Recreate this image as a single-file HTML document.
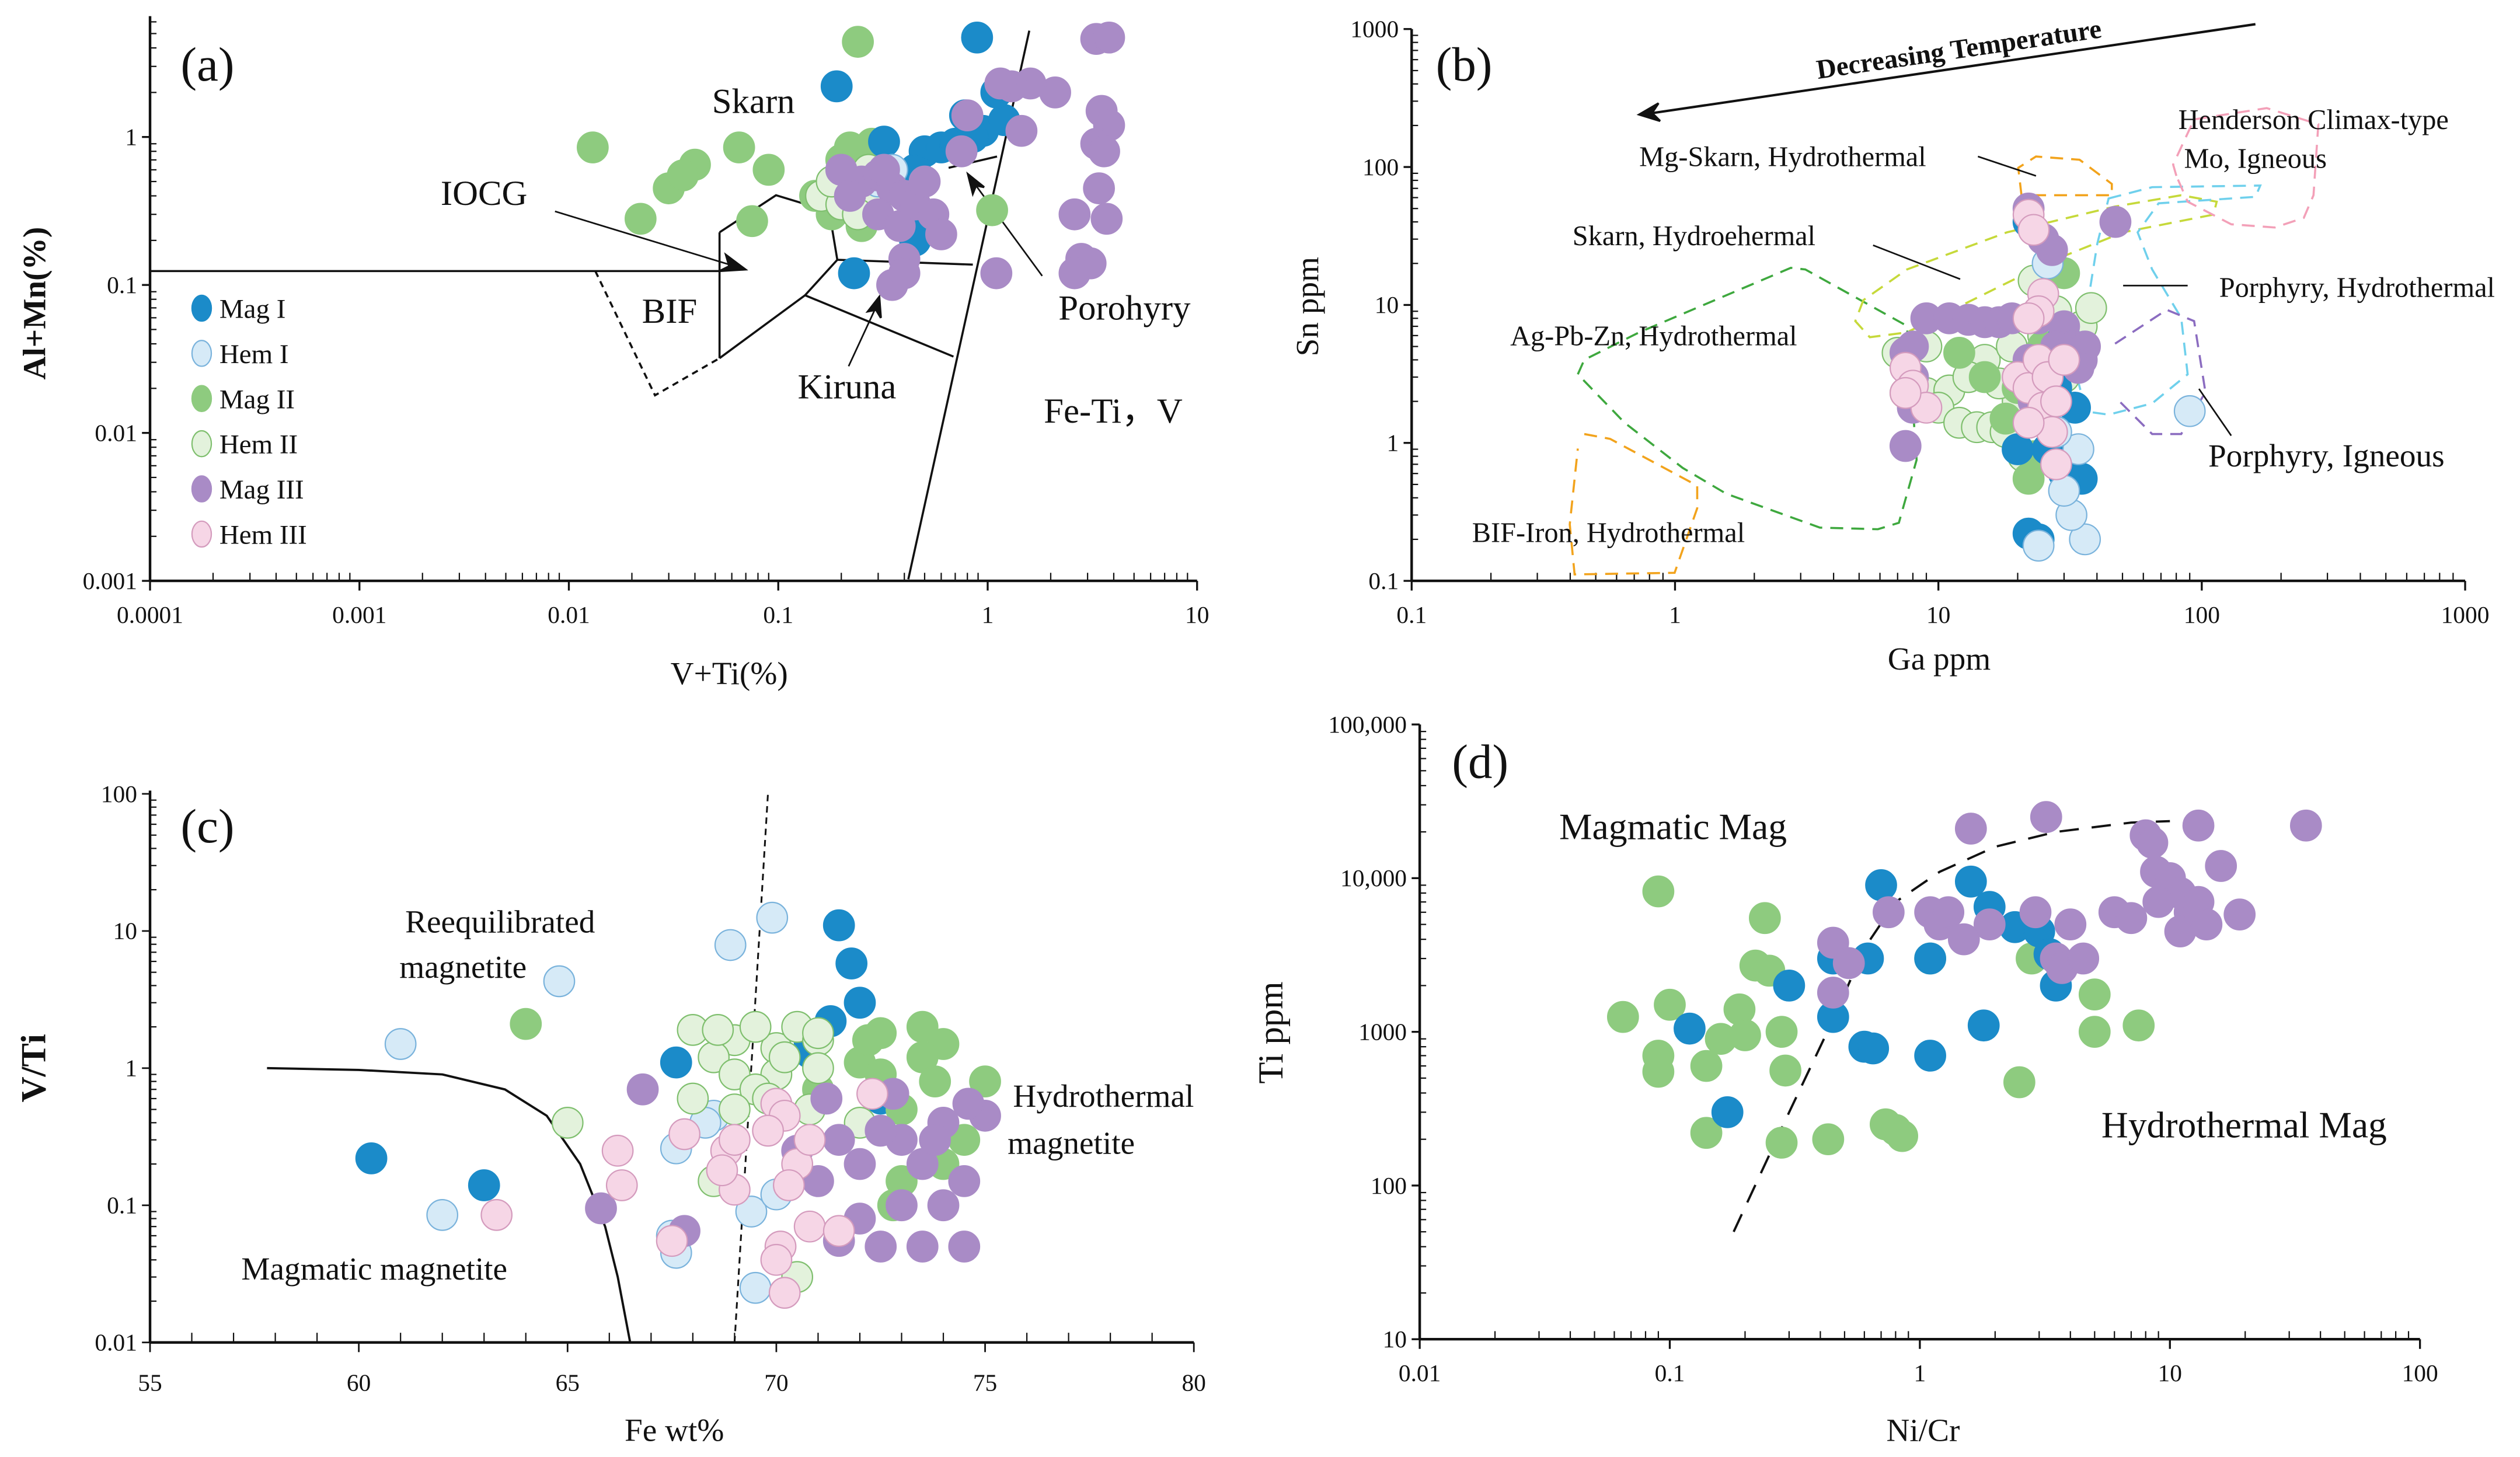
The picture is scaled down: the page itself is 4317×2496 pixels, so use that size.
<!DOCTYPE html>
<html><head><meta charset="utf-8"><style>
html,body{margin:0;padding:0;background:#fff}
svg{display:block}
text{font-family:"Liberation Serif",serif;fill:#111}
</style></head><body>
<svg id="fig" width="4317" height="2496" viewBox="0 0 1562 903" preserveAspectRatio="none" xmlns="http://www.w3.org/2000/svg">
<rect width="1562" height="903" fill="#fff"/>
<g id="layer"></g>
</svg>
<script>
// ---------- Panel (a) data: [V+Ti %, Al+Mn %] ----------
const aMagI=[[0.89,4.7],[0.19,2.2],[0.32,0.93],[0.5,0.8],[0.78,1.4],[0.95,1.1],[1.2,1.3],[0.6,0.85],[0.45,0.6],[0.23,0.12],[0.4,0.5],[0.45,0.2],[0.48,0.3],[1.1,2],[0.7,0.9],[0.85,1.0]];
const aHemI=[[0.3,0.5],[0.35,0.6]];
const aMagII=[[0.24,4.4],[0.013,0.85],[0.022,0.28],[0.03,0.45],[0.04,0.65],[0.065,0.85],[0.075,0.27],[0.09,0.6],[0.15,0.4],[0.2,0.7],[0.22,0.85],[0.28,0.9],[0.18,0.3],[0.25,0.5],[1.05,0.32],[0.035,0.55],[0.25,0.25],[0.2,0.45]];
const aHemII=[[0.16,0.4],[0.2,0.35],[0.22,0.5],[0.27,0.6],[0.3,0.4],[0.18,0.5],[0.24,0.3]];
const aMagIII=[[3.3,4.6],[3.8,4.7],[3.5,1.5],[3.8,1.2],[3.3,0.9],[3.6,0.8],[3.4,0.45],[3.7,0.28],[2.6,0.3],[2.8,0.15],[3.1,0.14],[2.6,0.12],[1.1,0.12],[2.1,2.0],[1.6,2.3],[1.3,2.2],[1.15,2.3],[0.75,0.8],[0.8,1.4],[1.45,1.1],[0.2,0.6],[0.25,0.5],[0.3,0.55],[0.35,0.45],[0.4,0.4],[0.3,0.3],[0.38,0.25],[0.45,0.35],[0.55,0.3],[0.6,0.22],[0.4,0.15],[0.35,0.1],[0.4,0.12],[0.32,0.6],[0.22,0.4],[0.5,0.5]];
const aHemIII=[];
// ---------- Panel (b) data: [Ga ppm, Sn ppm] ----------
const bMagI=[[22,0.22],[24,0.2],[35,0.55],[30,0.6],[26,0.9],[20,0.9],[33,1.8],[28,2.5],[25,4],[30,6],[22,40]];
const bHemI=[[36,0.2],[32,0.3],[30,0.45],[34,0.9],[90,1.7],[24,0.18],[26,20],[28,1.2]];
const bMagII=[[22,0.55],[23,0.8],[18,1.5],[20,2.5],[25,5],[30,17],[15,3],[22,8],[12,4.5],[26,3]];
const bHemII=[[7,4.5],[8,3],[9,2.3],[11,2.4],[10,1.8],[12,1.4],[14,1.3],[16,1.3],[18,1.2],[20,2],[22,4],[25,6],[28,9],[35,7],[38,9.5],[15,4],[17,2.7],[19,5],[23,15],[30,3],[9,5],[13,3],[7.5,2.3],[21,0.8]];
const bMagIII=[[7.5,4.5],[8,5],[9,8],[11,8],[13,7.8],[15,7.5],[17,7.5],[19,8],[22,50],[25,30],[27,25],[47,40],[8,1.8],[7.5,0.95],[24,8],[30,7],[35,4],[25,3],[23,2],[28,5],[22,4],[32,5],[8,3],[36,5],[34,3.5]];
const bHemIII=[[22,45],[23,35],[25,12],[24,9],[22,8],[20,3],[22,2.5],[25,1.8],[27,1.2],[28,0.7],[7.5,3.5],[8,2.6],[9,1.8],[7.5,2.3],[24,4],[26,3],[22,1.4],[28,2],[30,4]];
// ---------- Panel (c) data: [Fe wt%, V/Ti] ----------
const cMagI=[[60.3,0.22],[63,0.14],[67.6,1.1],[70.8,1.5],[71.5,11],[71.8,5.8],[72,3],[71.3,2.2],[70.8,1.3],[72.5,0.6]];
const cHemI=[[61,1.5],[62,0.085],[64.8,4.3],[67.5,0.06],[67.6,0.045],[68.5,0.45],[68.9,7.9],[69.9,12.5],[69.4,0.09],[69.5,0.025],[70,0.12],[67.6,0.26],[68.3,0.4]];
const cMagII=[[64,2.1],[73.5,2],[74,1.5],[75,0.8],[73,0.15],[72.5,1.8],[73.5,1.2],[74.5,0.3],[71,0.7],[72,1.1],[73,0.5],[74,0.2],[72.8,0.1],[72.2,1.6],[73.8,0.8],[72.5,0.9]];
const cHemII=[[65,0.4],[70.5,0.03],[68,1.9],[69,1.6],[70,1.4],[69.5,2],[70.5,2],[71,1.6],[68.5,1.2],[69,0.9],[70,0.9],[71,1],[68,0.6],[69.5,0.7],[70.8,0.5],[68.5,0.15],[69,0.5],[72,0.4],[71,1.8],[70.2,1.2],[68.6,1.9],[69.8,0.6]];
const cMagIII=[[65.8,0.095],[66.8,0.7],[67.8,0.065],[71.5,0.055],[72.5,0.05],[73.5,0.05],[74.5,0.05],[72,0.2],[73,0.3],[74,0.4],[75,0.45],[74.5,0.15],[73,0.1],[72,0.08],[71,0.15],[73.5,0.2],[74,0.1],[72.5,0.35],[71.5,0.3],[70.5,0.25],[74.6,0.55],[72.8,0.65],[71.2,0.6],[73.8,0.3]];
const cHemIII=[[63.3,0.085],[66.2,0.25],[66.3,0.14],[67.8,0.33],[67.5,0.055],[68.8,0.25],[69,0.3],[70,0.55],[70.2,0.45],[69.8,0.35],[70.5,0.2],[70.1,0.05],[70.2,0.023],[70.8,0.07],[71.5,0.065],[70.3,0.14],[70.8,0.3],[72.3,0.65],[69,0.13],[70,0.04],[68.7,0.18]];
// ---------- Panel (d) data: [Ni/Cr, Ti ppm] ----------
const dMagI=[[0.17,300],[0.12,1050],[0.45,1250],[0.6,800],[0.65,780],[0.7,9000],[0.62,3000],[0.45,3000],[1.1,3000],[1.1,700],[1.6,9500],[1.8,1100],[1.9,6500],[2.4,4800],[3,4500],[3.5,2000],[0.3,2000],[3.3,3200]];
const dMagII=[[0.09,8200],[0.065,1250],[0.09,700],[0.09,550],[0.1,1500],[0.14,600],[0.14,220],[0.16,900],[0.19,1400],[0.2,950],[0.22,2700],[0.25,2500],[0.24,5500],[0.28,1000],[0.29,560],[0.28,190],[0.43,200],[0.73,250],[0.85,210],[0.8,230],[1.1,3000],[2.5,470],[2.8,3000],[5,1750],[5,1000],[7.5,1100]];
const dMagIII=[[0.45,1800],[0.45,3800],[0.52,2800],[0.75,6000],[1.1,6000],[1.2,5000],[1.3,6000],[1.5,4000],[1.6,21000],[3.2,25000],[2.9,6000],[3.5,3000],[3.7,2600],[4,5000],[4.5,3000],[6,6000],[7,5500],[8,19000],[8.5,17000],[8.8,11000],[10,10000],[11,8000],[12,6000],[13,7000],[11,4500],[14,5000],[16,12000],[19,5800],[13,22000],[35,22000],[9,7000],[1.9,5000]];
// boundaries (data units)
const cCurve=[[57.8,1.0],[60,0.97],[62,0.9],[63.5,0.7],[64.5,0.45],[65.3,0.2],[65.9,0.07],[66.2,0.03],[66.5,0.01]];
const cDash=[[69,0.01],[69.8,100]];
const dCurve=[[0.18,50],[0.3,300],[0.45,1200],[0.6,3500],[0.8,7000],[1.2,11000],[2,16000],[3.5,20000],[7,23000],[10,23500]];

const NS="http://www.w3.org/2000/svg";
const L=document.getElementById('layer');
function mk(tag,at,parent){const e=document.createElementNS(NS,tag);for(const k in at)e.setAttribute(k,at[k]);(parent||L).appendChild(e);return e;}
function txt(s,x,y,size,extra,parent){const e=mk('text',Object.assign({x:x,y:y,'font-size':size},extra||{}),parent);e.textContent=s;return e;}
const lg=Math.log10;
// axis scales
const ax={x:v=>93+(lg(v)+4)*129.8, y:v=>360-(lg(v)+3)*91.7};
const bx={x:v=>875+(lg(v)+1)*163.25, y:v=>360-(lg(v)+1)*85.5};
const cx={x:v=>93+(v-55)*25.88, y:v=>832-(lg(v)+2)*85};
const dx={x:v=>880+(lg(v)+2)*155, y:v=>830-(lg(v)-1)*95.25};
const ST={
 MagI:{f:'#1b8bc9',s:'#1b8bc9'},HemI:{f:'#d6eaf7',s:'#7ab3dc'},
 MagII:{f:'#8ecb7f',s:'#8ecb7f'},HemII:{f:'#e3f2dc',s:'#7fbf6e'},
 MagIII:{f:'#a98bc6',s:'#a98bc6'},HemIII:{f:'#f6d6e6',s:'#d49bbd'}};
function pts(arr,sc,key,name){const g=mk('g',{});
 
 
 arr.forEach(p=>{const c=mk('circle',{cx:sc.x(p[0]),cy:sc.y(p[1]),r:9.5,fill:ST[key].f,stroke:ST[key].s,'stroke-width':0.8},g);
  
  });}
function poly(arr,sc,attrs,name){const d=arr.map((p,i)=>(i?'L':'M')+sc.x(p[0]).toFixed(1)+','+sc.y(p[1]).toFixed(1)).join(' ');
 const e=mk('path',Object.assign({d:d,fill:'none'},attrs));
 
 }
function path(d,attrs,name){const e=mk('path',Object.assign({d:d,fill:'none',stroke:'#111','stroke-width':1.3},attrs||{}));
 
 return e;}
// log axes
function logAxis(sc,x0,x1,y0,y1,xd,yd,xl,yl,name){
 const g=mk('g',{});
 
 
 const left=sc.x(x0),right=sc.x(x1),bot=sc.y(y0),top=yl.top;
 mk('line',{x1:left,y1:bot,x2:right,y2:bot,stroke:'#111','stroke-width':1.6},g);
 mk('line',{x1:left,y1:bot,x2:left,y2:top,stroke:'#111','stroke-width':1.6},g);
 xd.forEach((v,i)=>{const X=sc.x(v);mk('line',{x1:X,y1:bot,x2:X,y2:bot+6,stroke:'#111','stroke-width':1.2},g);
  txt(xl.labels[i],X,bot+26,15,{'text-anchor':'middle'},g);
  if(i<xd.length-1&&xl.log)for(let m=2;m<10;m++){const Xm=sc.x(v*m);mk('line',{x1:Xm,y1:bot,x2:Xm,y2:bot-5,stroke:'#111','stroke-width':0.8},g);}
  if(i<xd.length-1&&!xl.log){const Xm=sc.x(v+2.5);mk('line',{x1:Xm,y1:bot,x2:Xm,y2:bot-5,stroke:'#111','stroke-width':0.8},g);}});
 yd.forEach((v,i)=>{const Y=sc.y(v);mk('line',{x1:left-5,y1:Y,x2:left,y2:Y,stroke:'#111','stroke-width':1.2},g);
  txt(yl.labels[i],left-8,Y+5,15,{'text-anchor':'end'},g);
  for(let m=2;m<10;m++){const Ym=sc.y(v*m);if(Ym>=top)mk('line',{x1:left,y1:Ym,x2:left+4,y2:Ym,stroke:'#111','stroke-width':0.8},g);}});
}
// ===== Panel a =====
logAxis(ax,0.0001,10,0.001,5,[0.0001,0.001,0.01,0.1,1,10],[0.001,0.01,0.1,1],{log:true,labels:['0.0001','0.001','0.01','0.1','1','10']},{labels:['0.001','0.01','0.1','1'],top:10},'panel-a-axes');
txt('V+Ti(%)',452,424,20,{'text-anchor':'middle'});
txt('Al+Mn(%)',0,0,20,{'text-anchor':'middle','font-weight':'bold',transform:'translate(28,188) rotate(-90)'});
txt('(a)',112,50,30);
path('M93,168 L446,168 M446,144 L446,222 M446,144 L481,121 L514,131 L519,161 L603,164 M519,161 L499,183 L446,222 M499,183 L591,221 M563,359 L638,19 M588,104 L618,97','', 'panel-a-field-boundaries');
path('M369,168 L406,245 L446,222',{'stroke-dasharray':'4,3'},'panel-a-bif-dashed-boundary');
path('M344,131 L462,167',{'stroke-width':1},'iocg-arrow');path('M462,167 l-12,-9 l2,7 l-6,3 z',{fill:'#111'},'iocg-arrowhead');
path('M526,227 L545,186',{'stroke-width':1},'kiruna-arrow');path('M545,184 l-7,9 l5,-1 l3,5 z',{fill:'#111'},'kiruna-arrowhead');
path('M646,171 L602,111',{'stroke-width':1},'porphyry-arrow');path('M600,108 l3,12 l2,-5 l5,1 z',{fill:'#111'},'porphyry-arrowhead');
[['Skarn',467,70],['IOCG',300,127],['BIF',415,200],['Kiruna',525,247],['Porohyry',697,198],['Fe-Ti，V',690,262]].forEach(t=>{const e=txt(t[0],t[1],t[2],22,{'text-anchor':'middle'});});
pts(aMagII,ax,'MagII','a-mag-ii');pts(aHemII,ax,'HemII','a-hem-ii');pts(aMagI,ax,'MagI','a-mag-i');pts(aHemI,ax,'HemI','a-hem-i');pts(aMagIII,ax,'MagIII','a-mag-iii');pts(aHemIII,ax,'HemIII','a-hem-iii');
// legend
const legNames=['Mag I','Hem I','Mag II','Hem II','Mag III','Hem III'];
const legKeys=['MagI','HemI','MagII','HemII','MagIII','HemIII'];
legKeys.forEach((k,i)=>{const g=mk('g',{});
 
 
 mk('ellipse',{cx:125,cy:191+i*28,rx:6,ry:8,fill:ST[k].f,stroke:ST[k].s,'stroke-width':0.8},g);
 txt(legNames[i],136,197+i*28,17,{},g);});
// ===== Panel b =====
logAxis(bx,0.1,1000,0.1,1000,[0.1,1,10,100,1000],[0.1,1,10,100,1000],{log:true,labels:['0.1','1','10','100','1000']},{labels:['0.1','1','10','100','1000'],top:18},'panel-b-axes');
txt('Ga ppm',1202,415,20,{'text-anchor':'middle'});
txt('Sn ppm',0,0,20,{'text-anchor':'middle',transform:'translate(817,190) rotate(-90)'});
txt('(b)',890,50,30);
path('M978,232 L982,223 L1016,206 L1110,166 L1119,167 L1182,202 L1188,285 L1177,324 L1164,328 L1128,327 L1070,306 L1043,290 L1007,262 Z',{stroke:'#3ea83e','stroke-dasharray':'8,5'},'ag-pb-zn-field');
path('M982,269 L998,272 L1052,301 L1052,315 L1038,355 L976,356 L973,325 L978,278',{stroke:'#f2a31c','stroke-dasharray':'8,5'},'bif-iron-field');
path('M1253,121 L1251,104 L1262,97 L1289,99 L1309,114 L1309,121 Z',{stroke:'#f2a31c','stroke-dasharray':'8,5'},'mg-skarn-field');
path('M1155,186 L1150,199 L1159,209 L1182,206 L1271,162 L1316,144 L1372,133 L1374,125 L1352,121 L1311,128 L1244,144 L1182,167 Z',{stroke:'#c6d93a','stroke-dasharray':'8,5'},'skarn-field');
path('M1307,123 L1334,116 L1401,115 L1398,122 L1338,126 L1325,144 L1334,167 L1352,197 L1356,232 L1334,250 L1307,257 L1293,255 L1287,232 L1300,151 Z',{stroke:'#6fd0ec','stroke-dasharray':'8,5'},'porphyry-hydrothermal-field');
path('M1311,213 L1343,192 L1360,199 L1367,243 L1352,269 L1334,269 L1311,246',{stroke:'#8b6cc0','stroke-dasharray':'8,5'},'porphyry-igneous-field');
path('M1349,109 L1347,102 L1360,74 L1405,67 L1437,77 L1434,121 L1428,135 L1410,141 L1383,139 L1356,125 Z',{stroke:'#f3a0b8','stroke-dasharray':'8,5'},'henderson-field');
pts(bHemII,bx,'HemII','b-hem-ii');pts(bMagII,bx,'MagII','b-mag-ii');pts(bMagI,bx,'MagI','b-mag-i');pts(bHemI,bx,'HemI','b-hem-i');pts(bMagIII,bx,'MagIII','b-mag-iii');pts(bHemIII,bx,'HemIII','b-hem-iii');
path('M1398,15 L1018,71',{'stroke-width':1.5},'decreasing-temperature-arrow');
path('M1016,71 l12,-7 l-4,6 l5,5 z',{fill:'#111'},'decreasing-temperature-arrowhead');
txt('Decreasing Temperature',0,0,17,{'text-anchor':'middle','font-weight':'bold',transform:'translate(1215,36) rotate(-8.3)'});
path('M1226,97 L1262,109 M1161,152 L1215,173 M1316,177 L1356,177 M1363,241 L1383,270',{'stroke-width':1},'panel-b-label-leaders');
[['Mg-Skarn, Hydrothermal',1105,103,'middle'],['Skarn, Hydroehermal',1050,152,'middle'],['Ag-Pb-Zn, Hydrothermal',1025,214,'middle'],['BIF-Iron, Hydrothermal',997,336,'middle'],['Henderson Climax-type',1434,80,'middle'],['Mo, Igneous',1398,104,'middle'],['Porphyry, Hydrothermal',1461,184,'middle'],['Porphyry, Igneous',1442,289,'middle']].forEach(t=>{const e=txt(t[0],t[1],t[2],t[0].startsWith('Porphyry, I')?20:17.5,{'text-anchor':t[3]});});
// ===== Panel c =====
(function(){const g=mk('g',{});
 
 
 mk('line',{x1:93,y1:832,x2:740,y2:832,stroke:'#111','stroke-width':1.6},g);
 mk('line',{x1:93,y1:832,x2:93,y2:490,stroke:'#111','stroke-width':1.6},g);
 [55,60,65,70,75,80].forEach(v=>{const X=cx.x(v);mk('line',{x1:X,y1:832,x2:X,y2:838,stroke:'#111'},g);txt(String(v),X,862,15,{'text-anchor':'middle'},g);
  if(v<80)[1,2,3,4].forEach(m=>{const Xm=cx.x(v+m);mk('line',{x1:Xm,y1:832,x2:Xm,y2:826,stroke:'#111','stroke-width':0.8},g);});});
 [0.01,0.1,1,10,100].forEach((v,i)=>{const Y=cx.y(v);mk('line',{x1:88,y1:Y,x2:93,y2:Y,stroke:'#111'},g);txt(['0.01','0.1','1','10','100'][i],85,Y+5,15,{'text-anchor':'end'},g);
  if(v<100)for(let m=2;m<10;m++){const Ym=cx.y(v*m);mk('line',{x1:93,y1:Ym,x2:97,y2:Ym,stroke:'#111','stroke-width':0.8},g);}});})();
txt('Fe wt%',418,893,20,{'text-anchor':'middle'});
txt('V/Ti',0,0,22,{'text-anchor':'middle','font-weight':'bold',transform:'translate(28,662) rotate(-90)'});
txt('(c)',112,522,30);
poly(cCurve,cx,{stroke:'#111','stroke-width':1.4},'magmatic-boundary-curve');
poly(cDash,cx,{stroke:'#111','stroke-width':1.1,'stroke-dasharray':'4,3'},'reequilibrated-boundary-dashed');
pts(cHemI,cx,'HemI','c-hem-i');pts(cMagI,cx,'MagI','c-mag-i');pts(cMagII,cx,'MagII','c-mag-ii');pts(cHemII,cx,'HemII','c-hem-ii');pts(cMagIII,cx,'MagIII','c-mag-iii');pts(cHemIII,cx,'HemIII','c-hem-iii');
[['Reequilibrated',310,578],['magnetite',287,606],['Hydrothermal',684,686],['magnetite',664,715],['Magmatic magnetite',232,793]].forEach(t=>{const e=txt(t[0],t[1],t[2],20,{'text-anchor':'middle'});});
// ===== Panel d =====
logAxis(dx,0.01,100,10,100000,[0.01,0.1,1,10,100],[10,100,1000,10000,100000],{log:true,labels:['0.01','0.1','1','10','100']},{labels:['10','100','1000','10,000','100,000'],top:449},'panel-d-axes');
txt('Ni/Cr',1192,893,20,{'text-anchor':'middle'});
txt('Ti ppm',0,0,22,{'text-anchor':'middle',transform:'translate(795,640) rotate(-90)'});
txt('(d)',900,482,30);
poly(dCurve,dx,{stroke:'#111','stroke-width':1.4,'stroke-dasharray':'12,8'},'panel-d-boundary-dashed');
pts(dMagII,dx,'MagII','d-mag-ii');pts(dMagI,dx,'MagI','d-mag-i');pts(dMagIII,dx,'MagIII','d-mag-iii');
[['Magmatic Mag',1037,520],['Hydrothermal Mag',1391,705]].forEach(t=>{const e=txt(t[0],t[1],t[2],23,{'text-anchor':'middle'});});
</script>
</body></html>
